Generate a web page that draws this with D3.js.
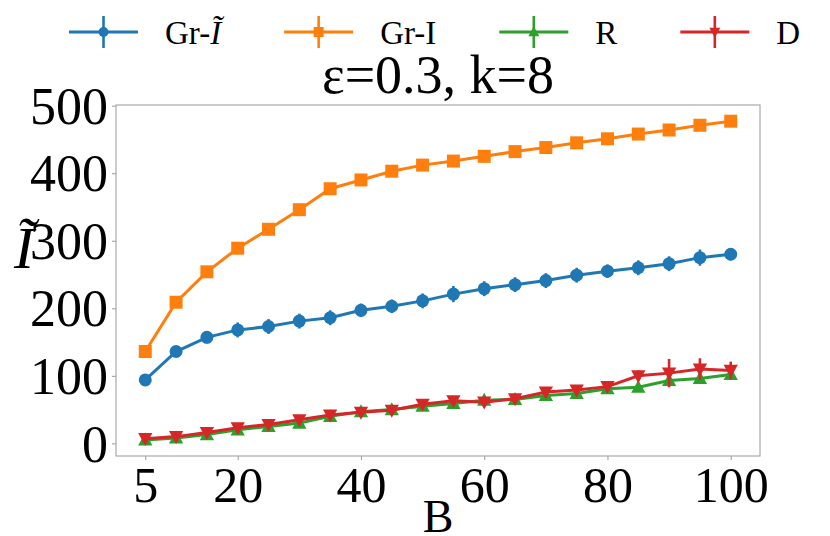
<!DOCTYPE html>
<html>
<head>
<meta charset="utf-8">
<script src="https://cdn.jsdelivr.net/npm/d3@7"></script>
<style>
  body { margin: 0; background: #fff; }
  svg { font-family: 'Liberation Serif', 'DejaVu Serif', serif; }
</style>
</head>
<body>
<svg width="830" height="536"></svg>
<script>
// data
const budgets = [5, 10, 15, 20, 25, 30, 35, 40, 45, 50, 55, 60, 65, 70, 75, 80, 85, 90, 95, 100];
const xTicks = [5, 20, 40, 60, 80, 100];
const yTicks = [0, 100, 200, 300, 400, 500];

const grTildeMean = [94, 136, 157, 168, 173, 181, 186, 197, 203, 211, 221, 229, 235, 241, 249, 255, 260, 266, 275, 280];
const grTildeErr  = [2, 4, 9, 11, 11, 11, 11, 10, 10, 11, 12, 11, 11, 11, 11, 10, 11, 11, 12, 9];
const grIMean = [136, 209, 254, 289, 317, 346, 377, 390, 403, 412, 418, 425, 432, 438, 445, 451, 458, 464, 471, 477];
const grIErr  = [2, 2, 2, 2, 2, 2, 2, 2, 2, 2, 2, 2, 2, 2, 2, 2, 2, 2, 2, 2];
const rMean = [5, 8, 13, 20, 25, 30, 40, 47, 50, 55, 59, 64, 65, 71, 74, 81, 83, 93, 96, 102];
const rErr  = [1, 1, 2, 2, 2, 2, 2, 2, 3, 3, 3, 3, 3, 3, 3, 3, 4, 4, 4, 4];
const dMean = [7, 10, 16, 23, 28, 35, 42, 46, 49, 58, 63, 61, 66, 76, 79, 84, 100, 104, 110, 108];
const dErr  = [2, 2, 3, 3, 3, 3, 3, 3, 3, 4, 4, 5, 3, 4, 4, 4, 8, 21, 16, 13];

const seriesNames = ['Gr-', 'Gr-I', 'R', 'D'];

const svg = d3.select('svg');
const width = +svg.attr('width');
const height = +svg.attr('height');

const margin = {top: 105, right: 70, bottom: 80, left: 116};
const innerWidth = width - margin.left - margin.right;
const innerHeight = height - margin.top - margin.bottom;

const series = [
  {name: seriesNames[0], tilde: true, mean: grTildeMean, err: grTildeErr, color: '#1f77b4', marker: d3.symbolCircle},
  {name: seriesNames[1], mean: grIMean, err: grIErr, color: '#ff7f0e', marker: d3.symbolSquare},
  {name: seriesNames[2], mean: rMean, err: rErr, color: '#2ca02c', marker: 'up'},
  {name: seriesNames[3], mean: dMean, err: dErr, color: '#d62728', marker: 'down'}
];

const xScale = d3.scaleLinear()
  .domain([0.25, 104.75])
  .range([0, innerWidth]);

const yScale = d3.scaleLinear()
  .domain([-18.7, 501])
  .range([innerHeight, 0]);

const g = svg.append('g')
  .attr('transform', `translate(${margin.left}, ${margin.top})`);

// marker path helper
const markerPath = (marker, size) => {
  if (marker === 'up' || marker === 'down') {
    const h = size * 0.95, w = size * 1.1;
    const s = marker === 'up' ? 1 : -1;
    return `M0,${-s * h * 0.6}L${w / 2},${s * h * 0.45}L${-w / 2},${s * h * 0.45}Z`;
  }
  const area = marker === d3.symbolCircle ? Math.PI * (size / 2) ** 2 : size * size;
  return d3.symbol().type(marker).size(area)();
};

// axes
const xAxis = d3.axisBottom(xScale)
  .tickValues(xTicks)
  .tickSize(4)
  .tickPadding(5);

const yAxis = d3.axisLeft(yScale)
  .tickValues(yTicks)
  .tickSize(4)
  .tickPadding(4);

const xAxisG = g.append('g')
  .attr('transform', `translate(0, ${innerHeight})`)
  .call(xAxis)
  .attr('font-family', null)
  .attr('font-size', 50);
xAxisG.select('.domain').remove();
xAxisG.selectAll('line').attr('stroke', '#999');
xAxisG.selectAll('text')
  .attr('fill', 'black')
  .attr('dy', '0.74em');

const yAxisG = g.append('g')
  .call(yAxis)
  .attr('font-family', null)
  .attr('font-size', 52);
yAxisG.select('.domain').remove();
yAxisG.selectAll('line').attr('stroke', '#999');
yAxisG.selectAll('text')
  .attr('fill', 'black')
  .attr('dy', '0.34em');

// frame
g.append('rect')
  .attr('width', innerWidth)
  .attr('height', innerHeight)
  .attr('fill', 'none')
  .attr('stroke', '#aaa')
  .attr('stroke-width', 1.2);

const line = d3.line()
  .x((d, i) => xScale(budgets[i]))
  .y(d => yScale(d));

series.forEach(s => {
  const sg = g.append('g');

  sg.selectAll('line.err')
    .data(s.mean)
    .join('line')
    .attr('class', 'err')
    .attr('x1', (d, i) => xScale(budgets[i]))
    .attr('x2', (d, i) => xScale(budgets[i]))
    .attr('y1', (d, i) => yScale(d - s.err[i]))
    .attr('y2', (d, i) => yScale(d + s.err[i]))
    .attr('stroke', s.color)
    .attr('stroke-width', 2.6);

  sg.append('path')
    .attr('d', line(s.mean))
    .attr('fill', 'none')
    .attr('stroke', s.color)
    .attr('stroke-width', 3);

  sg.selectAll('path.mk')
    .data(s.mean)
    .join('path')
    .attr('class', 'mk')
    .attr('transform', (d, i) => `translate(${xScale(budgets[i])}, ${yScale(d)})`)
    .attr('d', markerPath(s.marker, 13))
    .attr('fill', s.color);
});

// title
svg.append('text')
  .attr('x', margin.left + innerWidth / 2)
  .attr('y', 93)
  .attr('text-anchor', 'middle')
  .attr('font-size', 54)
  .text('\u03b5=0.3, k=8');

// axis labels
svg.append('text')
  .attr('x', margin.left + innerWidth / 2)
  .attr('y', 532)
  .attr('text-anchor', 'middle')
  .attr('font-size', 46)
  .text('B');

svg.append('text')
  .attr('x', 24)
  .attr('y', 268)
  .attr('text-anchor', 'middle')
  .attr('font-size', 60)
  .attr('font-style', 'italic')
  .text('\u0128');

// legend
const legendY = 32;
const handleLen = 69;
let lx = 69;
series.forEach(s => {
  const lg = svg.append('g');
  lg.append('line')
    .attr('x1', lx).attr('x2', lx + handleLen)
    .attr('y1', legendY).attr('y2', legendY)
    .attr('stroke', s.color).attr('stroke-width', 3);
  lg.append('line')
    .attr('x1', lx + handleLen / 2).attr('x2', lx + handleLen / 2)
    .attr('y1', legendY - 16).attr('y2', legendY + 16)
    .attr('stroke', s.color).attr('stroke-width', 2.6);
  lg.append('path')
    .attr('transform', `translate(${lx + handleLen / 2}, ${legendY})`)
    .attr('d', markerPath(s.marker, 10))
    .attr('fill', s.color);
  const t = lg.append('text')
    .attr('x', lx + handleLen + 27)
    .attr('y', 44)
    .attr('font-size', 33)
    .text(s.name);
  if (s.tilde) {
    t.append('tspan').attr('font-style', 'italic').text('\u0128');
  }
  lx += handleLen + 27 + t.node().getComputedTextLength() + 63;
});
</script>
</body>
</html>
